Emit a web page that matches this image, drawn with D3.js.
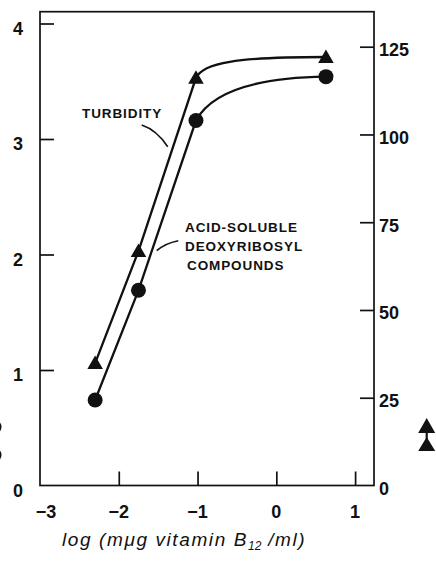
<!DOCTYPE html>
<html>
<head>
<meta charset="utf-8">
<script src="https://cdn.jsdelivr.net/npm/d3@7/dist/d3.min.js"></script>
<style>
  html, body { margin: 0; padding: 0; background: #fff; }
  svg { display: block; }
  text { font-family: "Liberation Sans", Arial, sans-serif; fill: #111; }
</style>
</head>
<body>
<svg id="chart" width="436" height="565"></svg>
<script>
// ---- data ----
const logDose = [-2.3, -1.75, -1.02, 0.63];
const turbidity = [1.06, 2.03, 3.53, 3.71];      // left-axis units
const deoxyribosyl = [0.74, 1.69, 3.16, 3.54];   // left-axis units
const xTicks = [-3, -2, -1, 0, 1];
const leftTicks = [0, 1, 2, 3, 4];
const rightTicks = [0, 25, 50, 75, 100, 125];
const xTitle = ["log (mμg vitamin B", "12", " /ml)"];

const svg = d3.select("#chart");
const L = 40, R = 374, T = 11.7, B = 485.5;

const x = d3.scaleLinear().domain([-3, 1.24]).range([L, R]);
const yL = d3.scaleLinear().domain([0, 4]).range([B, 23.5]);
const yR = d3.scaleLinear().domain([0, 125]).range([B, 46.7]);

const ink = "#111";

// frame
svg.append("rect").attr("x", L).attr("y", T).attr("width", R - L).attr("height", B - T)
  .attr("fill", "none").attr("stroke", ink).attr("stroke-width", 1.7);

// axes (ticks inward)
const fontSize = 18;
const gl = svg.append("g").attr("transform", `translate(${L},0)`)
  .call(d3.axisRight(yL).tickValues(leftTicks.filter(d => d > 0)).tickSize(14).tickFormat(""));
const gr = svg.append("g").attr("transform", `translate(${R},0)`)
  .call(d3.axisLeft(yR).tickValues(rightTicks.filter(d => d > 0)).tickSize(14).tickFormat(""));
const gb = svg.append("g").attr("transform", `translate(0,${B})`)
  .call(d3.axisTop(x).tickValues(xTicks.filter(d => d > -3)).tickSize(14).tickFormat(""));
[gl, gr, gb].forEach(g => {
  g.select(".domain").remove();
  g.selectAll("line").attr("stroke", ink).attr("stroke-width", 1.7);
});

// tick labels
svg.append("g").selectAll("text").data(leftTicks).join("text")
  .attr("x", 23).attr("y", d => yL(d) + 5).attr("dy", "0.35em")
  .attr("text-anchor", "end").attr("font-size", fontSize).attr("font-weight", "bold")
  .text(d => d);
svg.append("g").selectAll("text").data(rightTicks).join("text")
  .attr("x", 379).attr("y", d => yR(d) + 3).attr("dy", "0.35em")
  .attr("text-anchor", "start").attr("font-size", fontSize).attr("font-weight", "bold")
  .text(d => d);
svg.append("g").selectAll("text").data(xTicks).join("text")
  .attr("x", d => x(d) + (d === -3 ? 6 : 0)).attr("y", 518)
  .attr("text-anchor", "middle").attr("font-size", fontSize).attr("font-weight", "bold")
  .text(d => d < 0 ? "−" + Math.abs(d) : String(d));

// x title
const tt = svg.append("text").attr("x", 62).attr("y", 546)
  .attr("font-size", 19).attr("font-style", "italic").attr("letter-spacing", 1.6);
tt.append("tspan").text(xTitle[0]);
tt.append("tspan").attr("font-size", 12).attr("dy", 4).attr("letter-spacing", 0).text(xTitle[1]);
tt.append("tspan").attr("dy", -4).text(xTitle[2]);

// data curves: straight rise then a bend to the plateau
function curvePath(ys, c1, c2) {
  const p = logDose.map((d, i) => [x(d), yL(ys[i])]);
  const lin = d3.line()(p.slice(0, 3));
  const p3 = p[2], p4 = p[3];
  return lin + `C${p3[0] + c1[0]},${p3[1] + c1[1]} ${p3[0] + c2[0]},${p4[1] + c2[1]} ${p4[0]},${p4[1]}`;
}
svg.append("path").attr("d", curvePath(turbidity, [7, -15], [40, 0]))
  .attr("fill", "none").attr("stroke", ink).attr("stroke-width", 2.3);
svg.append("path").attr("d", curvePath(deoxyribosyl, [14, -26], [54, 1]))
  .attr("fill", "none").attr("stroke", ink).attr("stroke-width", 2.3);

// markers
const tri = d3.symbol().type(d3.symbolTriangle).size(105);
svg.append("g").selectAll("path").data(logDose).join("path")
  .attr("transform", (d, i) => `translate(${x(d)},${yL(turbidity[i]) + 1.5})`)
  .attr("d", tri).attr("fill", ink);
svg.append("g").selectAll("circle").data(logDose).join("circle")
  .attr("cx", d => x(d)).attr("cy", (d, i) => yL(deoxyribosyl[i]))
  .attr("r", 7.5).attr("fill", ink);

// curve labels
const lab = svg.append("g").attr("font-size", 13.5).attr("font-weight", "bold")
  .attr("letter-spacing", 0.9);
lab.append("text").attr("x", 82).attr("y", 117.5).text("TURBIDITY");
lab.append("text").attr("x", 185).attr("y", 231.5).text("ACID-SOLUBLE");
lab.append("text").attr("x", 185).attr("y", 251).text("DEOXYRIBOSYL");
lab.append("text").attr("x", 187).attr("y", 270).text("COMPOUNDS");

// leader lines
svg.append("path").attr("d", "M141.7,125 Q156.7,130 167.7,146.7")
  .attr("fill", "none").attr("stroke", ink).attr("stroke-width", 1.6);
svg.append("path").attr("d", "M156.7,250.7 Q165,243.3 178.3,240.7")
  .attr("fill", "none").attr("stroke", ink).attr("stroke-width", 1.6);

// right-axis key arrow (triangle)
const ax = 426.7;
svg.append("path").attr("d", `M${ax},418 L${ax + 8.5},433 L${ax - 8.5},433 Z`).attr("fill", ink);
svg.append("line").attr("x1", ax).attr("x2", ax).attr("y1", 432).attr("y2", 442)
  .attr("stroke", ink).attr("stroke-width", 2.2);
svg.append("path").attr("d", `M${ax},437 L${ax + 8.5},451 L${ax - 8.5},451 Z`).attr("fill", ink);

// left-axis key fragments (cut off at the edge)
svg.append("circle").attr("cx", -6).attr("cy", 427).attr("r", 7.5).attr("fill", ink);
svg.append("circle").attr("cx", -6).attr("cy", 455).attr("r", 7.5).attr("fill", ink);
</script>
</body>
</html>
